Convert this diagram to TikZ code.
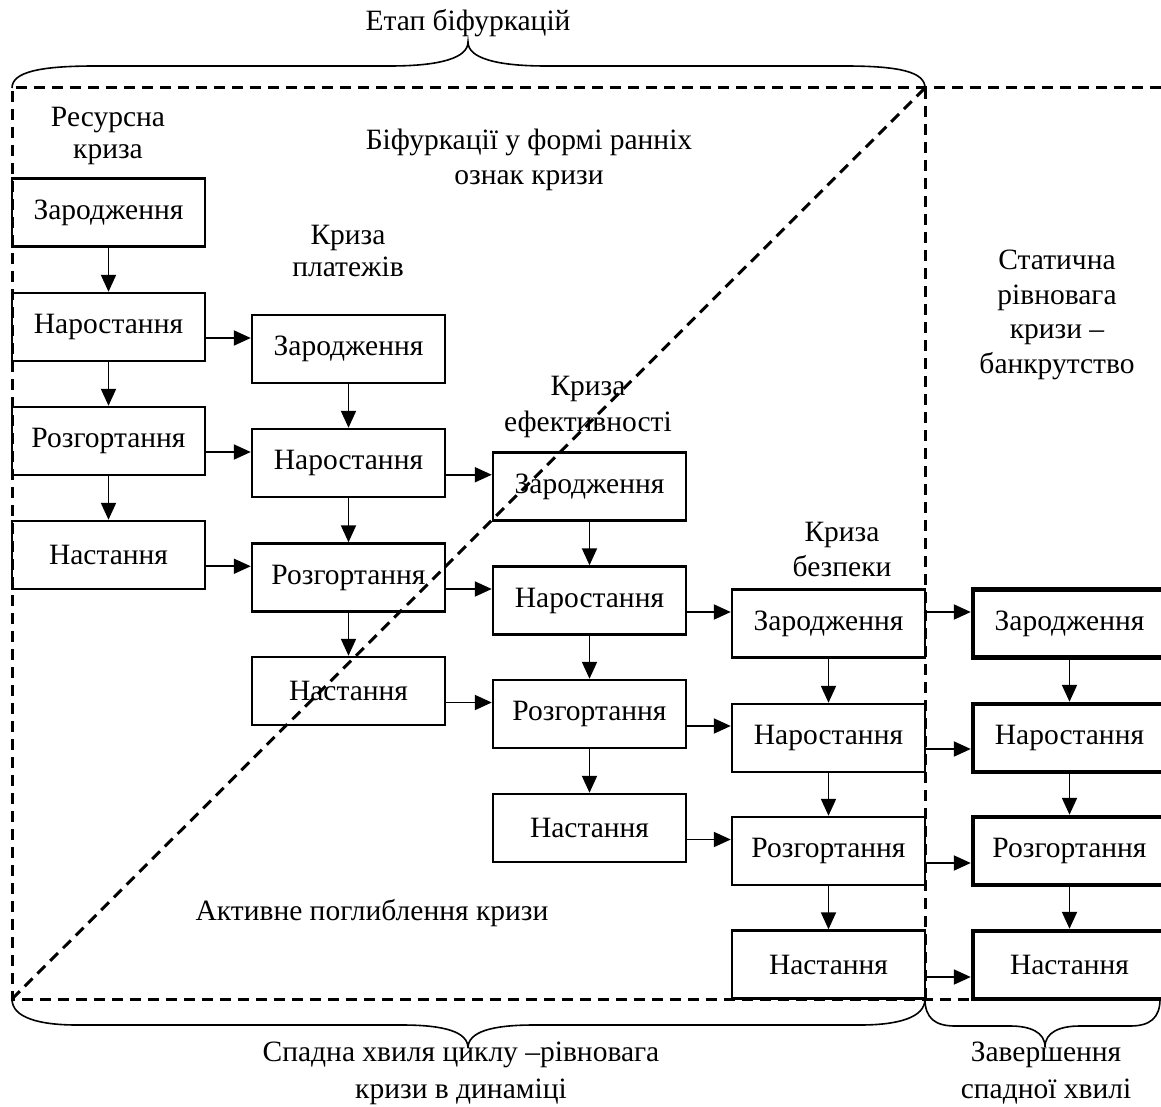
\documentclass[tikz,border=0pt]{standalone}
\usepackage{fontspec}
\setmainfont{Liberation Serif}
\usetikzlibrary{arrows.meta,calc}
\begin{document}
\begin{tikzpicture}[x=1pt,y=-1pt,
  every node/.style={font=\fontsize{29.5}{33}\selectfont},
  stage/.style={draw, line width=2.4pt, minimum width=193pt, minimum height=68pt, inner sep=0pt},
  fstage/.style={stage, line width=4.4pt},
  lbl/.style={align=center, inner sep=0pt},
  arr/.style={line width=1.9pt, -{Triangle[length=17pt,width=15pt]}},
  dsh/.style={line width=3pt, dash pattern=on 11pt off 7pt},
  brc/.style={line width=1.6pt}]
\useasboundingbox (0,0) rectangle (1161,1107);

% boxes
\node[stage] (a1) at (108.5,212.5) {Зародження};
\node[stage] (a2) at (108.5,327) {Наростання};
\node[stage] (a3) at (108.5,441) {Розгортання};
\node[stage] (a4) at (108.5,555) {Настання};
\node[stage] (b1) at (348.5,349) {Зародження};
\node[stage] (b2) at (348.5,463) {Наростання};
\node[stage] (b3) at (348.5,577.5) {Розгортання};
\node[stage] (b4) at (348.5,691) {Настання};
\node[stage] (c1) at (589.5,486.5) {Зародження};
\node[stage] (c2) at (589.5,600.5) {Наростання};
\node[stage] (c3) at (589.5,714) {Розгортання};
\node[stage] (c4) at (589.5,828) {Настання};
\node[stage] (d1) at (828.5,623.5) {Зародження};
\node[stage] (d2) at (828.5,738) {Наростання};
\node[stage] (d3) at (828.5,851) {Розгортання};
\node[stage] (d4) at (828.5,964.5) {Настання};
\node[fstage] (e1) at (1069.5,623.5) {Зародження};
\node[fstage] (e2) at (1069.5,738) {Наростання};
\node[fstage] (e3) at (1069.5,851) {Розгортання};
\node[fstage] (e4) at (1069.5,965) {Настання};

% vertical arrows
\foreach \c in {a,b,c,d,e}{
  \foreach \i/\j in {1/2,2/3,3/4}{
    \draw[arr] (\c\i.south) -- (\c\j.north);
  }
}
% horizontal arrows between columns
\foreach \s/\t in {a2/b1,a3/b2,a4/b3,b2/c1,b3/c2,b4/c3,c2/d1,c3/d2,c4/d3}{
  \coordinate (m-\s) at ($(\s.center)!0.5!(\t.center)$);
  \draw[arr] (\s.east |- m-\s) -- (\t.west |- m-\s);
}
\foreach \i/\y in {1/612,2/749,3/863,4/977}{
  \coordinate (h\i) at (0,\y);
  \draw[arr] (d\i.east |- h\i) -- (e\i.west |- h\i);
}

% dashed frame and diagonal
\coordinate (fTL) at (12,88);
\coordinate (fBL) at (12,999);
\coordinate (fTM) at (925,88);
\coordinate (fBM) at (925,999);
\coordinate (fTR) at (1161,88);
\coordinate (fBR) at (1161,999);
\draw[dsh] (fTR) -- (fTL) -- (fBL) -- (fBR);
\draw[dsh] (fTM) -- (fBM);
\draw[dsh] (fBL) -- (fTM);

% braces
\draw[brc] (fTL) .. controls (12,72) and (40,66) .. (95,66) -- (390,66)
  .. controls (440,66) and (468,58) .. (468,42)
  .. controls (468,58) and (496,66) .. (546,66) -- (845,66)
  .. controls (900,66) and (925,72) .. (fTM);
\draw[brc] (fBL) .. controls (12,1018) and (40,1025) .. (77,1025) -- (402,1025)
  .. controls (445,1025) and (468,1032) .. (468,1048)
  .. controls (468,1032) and (491,1025) .. (534,1025) -- (860,1025)
  .. controls (897,1025) and (925,1018) .. (fBM);
\draw[brc] (fBM) .. controls (925,1018) and (935,1026) .. (955,1026) -- (1010,1026)
  .. controls (1030,1026) and (1045,1032) .. (1045,1047)
  .. controls (1045,1032) and (1060,1026) .. (1080,1026) -- (1130,1026)
  .. controls (1150,1026) and (1160,1018) .. (1160,999);

% labels
\node[lbl] (tEtap) at (468,23) {Етап біфуркацій};
\node[lbl, font=\fontsize{29.5}{32}\selectfont] (tRes) at (108,136) {Ресурсна\\криза};
\node[lbl, font=\fontsize{29.5}{32}\selectfont] (tPlat) at (348,251) {Криза\\платежів};
\node[lbl, font=\fontsize{29.5}{35}\selectfont] (tBif) at (529,159.5) {Біфуркації у формі ранніх\\ознак кризи};
\node[lbl, font=\fontsize{29.5}{36}\selectfont] (tEf) at (588,407) {Криза\\ефективності};
\node[lbl, font=\fontsize{29.5}{35}\selectfont] (tBez) at (842,549.5) {Криза\\безпеки};
\node[lbl, font=\fontsize{29.5}{34.7}\selectfont] (tStat) at (1057,315) {Статична\\рівновага\\кризи –\\банкрутство};
\node[lbl] (tAkt) at (372,913) {Активне поглиблення кризи};
\node[lbl, font=\fontsize{29.5}{37}\selectfont] (tSpad) at (461,1073.5) {Спадна хвиля циклу –рівновага\\кризи в динаміці};
\node[lbl, font=\fontsize{29.5}{37}\selectfont] (tZav) at (1046,1073.5) {Завершення\\спадної хвилі};
\end{tikzpicture}
\end{document}
